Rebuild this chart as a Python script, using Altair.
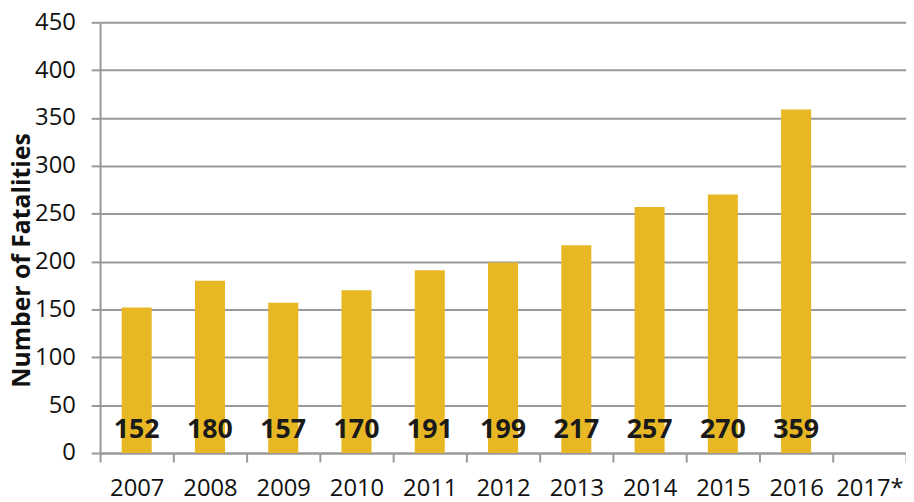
import altair as alt
import pandas as pd

years = ["2007", "2008", "2009", "2010", "2011", "2012", "2013", "2014", "2015", "2016", "2017*"]
fatalities = [152, 180, 157, 170, 191, 199, 217, 257, 270, 359, None]
label_texts = ["152", "180", "157", "170", "191", "199", "217", "257", "270", "359", ""]
label_level = 24

df = pd.DataFrame({"year": years, "value": fatalities, "label": label_texts, "ly": [label_level] * len(years)})

FONT = "Open Sans"

x_enc = alt.X("year:N", sort=years, title=None,
              scale=alt.Scale(paddingInner=0, paddingOuter=0),
              axis=alt.Axis(labelAngle=0, tickBand="extent", labelFontSize=24, labelFont=FONT,
                            labelColor="#111111", tickSize=9, tickColor="#999999", tickWidth=2,
                            domainColor="#999999", domainWidth=2, labelPadding=15, grid=False))

bars = alt.Chart(df).mark_bar(color="#E8B824", width=alt.RelativeBandSize(0.41)).encode(
    x=x_enc,
    y=alt.Y("value:Q", scale=alt.Scale(domain=[0, 450]), title="Number of Fatalities",
            axis=alt.Axis(values=list(range(0, 451, 50)), labelFontSize=24, labelFont=FONT,
                          labelColor="#111111", tickSize=9, tickColor="#999999", tickWidth=2,
                          domainColor="#999999", domainWidth=2, labelPadding=16,
                          gridColor="#999999", gridWidth=2,
                          titleFont=FONT, titleFontSize=25, titleFontWeight="bold", titleColor="#111111",
                          titleX=-79, titleY=240, titleAlign="center", titleBaseline="middle", titleAngle=270)),
)

labels = alt.Chart(df).mark_text(font=FONT, fontSize=27, fontWeight="bold", color="#1a1a1a",
                                  baseline="middle", align="center").encode(
    x=alt.X("year:N", sort=years),
    y=alt.Y("ly:Q"),
    text="label:N",
)

chart = alt.layer(bars, labels).properties(
    width=814, height=435,
    autosize=alt.AutoSizeParams(type="none"),
    padding={"left": 93, "top": 12, "right": 0, "bottom": 47},
).configure_view(fill="#DEDEDE", stroke=None).configure(background="white")

chart.save("out.html", embed_options={"renderer": "svg", "actions": False})
